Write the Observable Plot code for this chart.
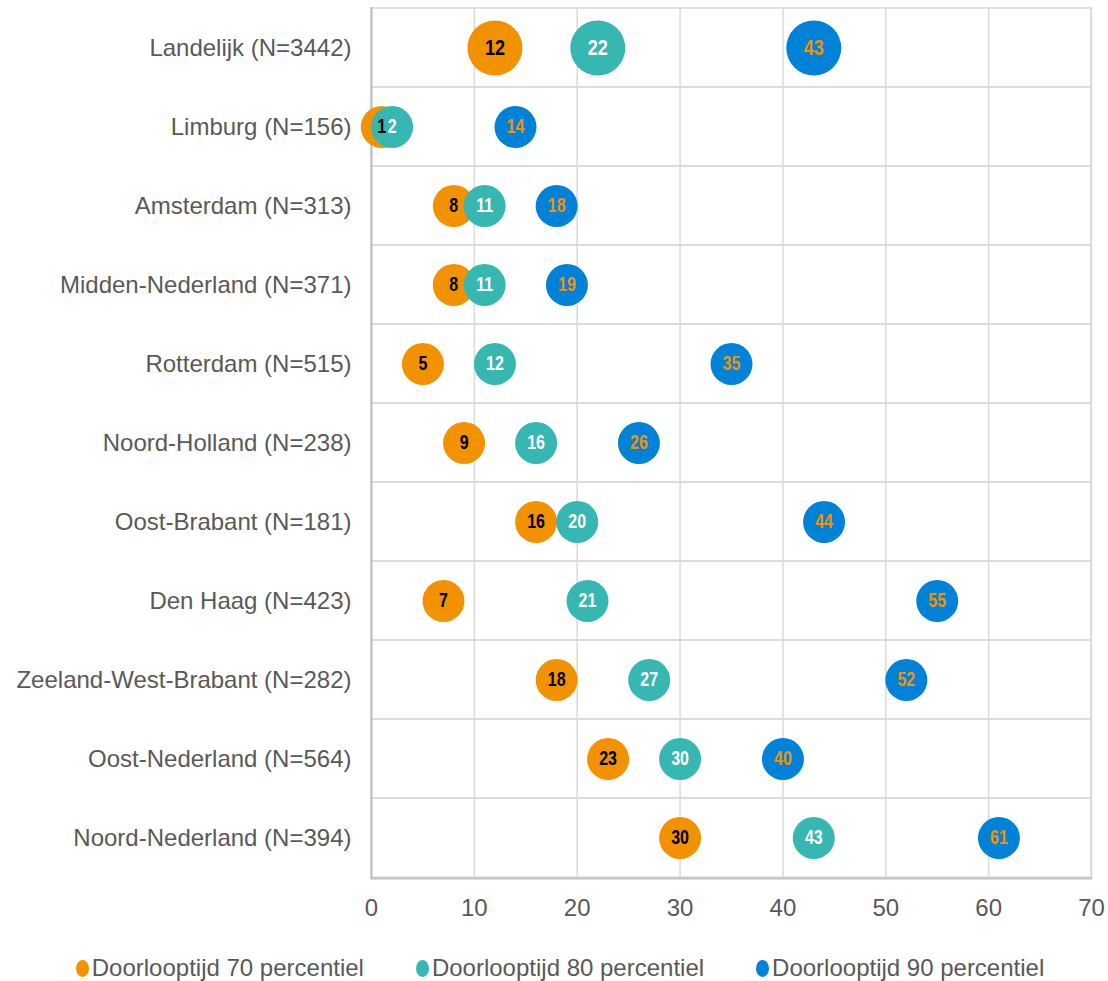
<!DOCTYPE html>
<html>
<head>
<meta charset="utf-8">
<script src="https://cdn.jsdelivr.net/npm/d3@7"></script>
<script src="https://cdn.jsdelivr.net/npm/@observablehq/plot@0.6"></script>
<style>
  body { margin: 0; background: #fff; font-family: "Liberation Sans", Arial, sans-serif; }
  #legend { display: flex; justify-content: center; gap: 52px; font-size: 24px; color: #595959; height: 40px; align-items: center; margin-top: 8px; padding-left: 12px; }
  .item { display: flex; align-items: center; }
  .sw { display: inline-block; width: 13px; height: 17px; border-radius: 50%; margin-right: 3px; }
</style>
</head>
<body>
<div id="chart"></div>
<div id="legend"></div>
<script>
const regions = [
  "Landelijk (N=3442)", "Limburg (N=156)", "Amsterdam (N=313)", "Midden-Nederland (N=371)",
  "Rotterdam (N=515)", "Noord-Holland (N=238)", "Oost-Brabant (N=181)", "Den Haag (N=423)",
  "Zeeland-West-Brabant (N=282)", "Oost-Nederland (N=564)", "Noord-Nederland (N=394)"
];
const p70 = [12, 1, 8, 8, 5, 9, 16, 7, 18, 23, 30];
const p80 = [22, 2, 11, 11, 12, 16, 20, 21, 27, 30, 43];
const p90 = [43, 14, 18, 19, 35, 26, 44, 55, 52, 40, 61];
const seriesNames = ["Doorlooptijd 70 percentiel", "Doorlooptijd 80 percentiel", "Doorlooptijd 90 percentiel"];
const xTicks = [0, 10, 20, 30, 40, 50, 60, 70];

const fills = ["#F39200", "#36B7B1", "#0082D8"];
const textFills = ["#000000", "#ffffff", "#F39200"];

const seriesVals = [p70, p80, p90];
const rows = [];
seriesVals.forEach((vals, s) => {
  vals.forEach((v, i) => rows.push({region: regions[i], value: v, s, national: i === 0}));
});

const rad = d => d.national ? 27.5 : 21;

const plot = Plot.plot({
  width: 1108,
  height: 940,
  marginLeft: 371,
  marginRight: 17,
  marginTop: 7,
  marginBottom: 62,
  style: {fontFamily: "'Liberation Sans', Arial, sans-serif", background: "#fff"},
  x: {domain: [0, 70], ticks: xTicks, grid: false},
  y: {domain: regions, padding: 0},
  r: {type: "identity"},
  marks: [
    Plot.ruleX(xTicks, {stroke: "#d9d9d9", strokeWidth: 1.5}),
    Plot.barX(regions, {y: d => d, x1: 0, x2: 70, fill: "none", stroke: "#d9d9d9", strokeWidth: 1.5}),
    Plot.ruleX([0], {stroke: "#bfbfbf", strokeWidth: 2}),
    Plot.frame({anchor: "bottom", stroke: "#bfbfbf", strokeWidth: 2}),
    Plot.axisX({ticks: xTicks, tickSize: 0, tickPadding: 20, fontSize: 24, fill: "#595959", label: null}),
    Plot.axisY({tickSize: 0, tickPadding: 20, fontSize: 24, fill: "#595959", label: null}),
    Plot.dot(rows, {x: "value", y: "region", r: rad, fill: d => fills[d.s], stroke: "none"}),
    Plot.text(rows, {
      x: "value", y: "region", text: d => String(d.value),
      fill: d => textFills[d.s],
      fontSize: d => d.national ? 22 : 19.5,
      fontWeight: "bold",
      fontFamily: "'Liberation Sans', Arial, sans-serif"
    })
  ]
});
document.getElementById("chart").appendChild(plot);

// condense the value labels (Arial Narrow look)
d3.select(plot).selectAll("g[aria-label='text'] text").each(function() {
  const len = this.getComputedTextLength();
  this.setAttribute("textLength", (len * 0.82).toFixed(2));
  this.setAttribute("lengthAdjust", "spacingAndGlyphs");
});

const legend = document.getElementById("legend");
seriesNames.forEach((n, i) => {
  const it = document.createElement("div");
  it.className = "item";
  it.innerHTML = `<span class="sw" style="background:${fills[i]}"></span><span>${n}</span>`;
  legend.appendChild(it);
});
</script>
</body>
</html>
